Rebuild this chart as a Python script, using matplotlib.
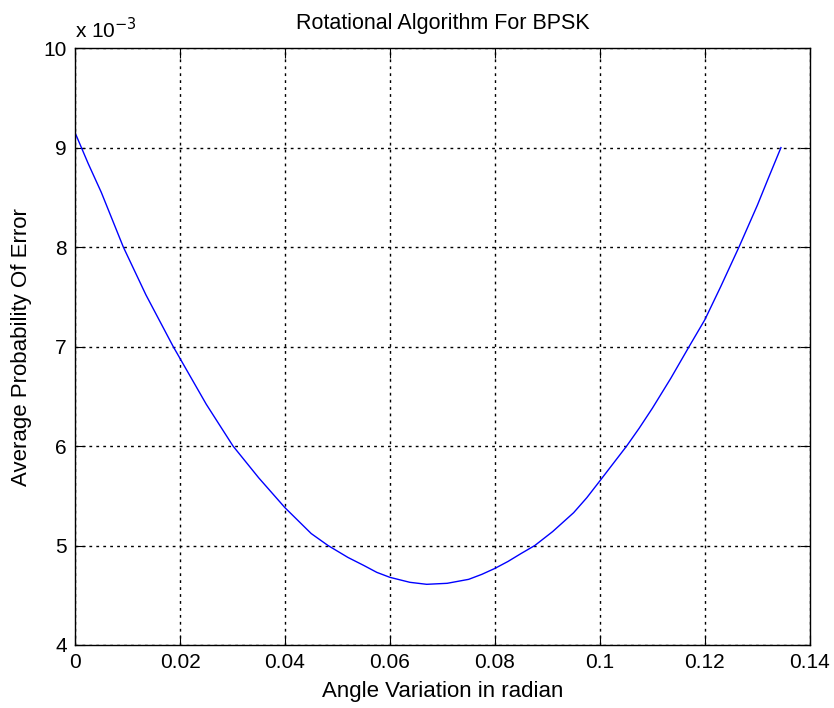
import numpy as np
import matplotlib
matplotlib.use('Agg')
import matplotlib.pyplot as plt

plt.rcParams['font.family'] = ['Liberation Sans', 'DejaVu Sans']

# values (y in units of 1e-3)
angle = [0, 0.0025, 0.005, 0.0092, 0.0135, 0.0187, 0.025, 0.0301, 0.035, 0.04,
         0.045, 0.0482, 0.052, 0.055, 0.0575, 0.06, 0.0638, 0.067, 0.0709, 0.075,
         0.0775, 0.08, 0.0825, 0.085, 0.0876, 0.091, 0.095, 0.0975, 0.1, 0.1051,
         0.1075, 0.11, 0.1135, 0.117, 0.12, 0.123, 0.1265, 0.13, 0.132, 0.1345]
pe = [9.15, 8.84, 8.55, 8.0, 7.52, 7.0, 6.42, 6.0, 5.68, 5.38,
      5.12, 5.0, 4.88, 4.8, 4.73, 4.68, 4.63, 4.61, 4.62, 4.66,
      4.71, 4.77, 4.84, 4.92, 5.0, 5.14, 5.33, 5.48, 5.65, 6.0,
      6.18, 6.38, 6.68, 7.0, 7.27, 7.6, 8.0, 8.42, 8.68, 9.0]

xticks = [0, 0.02, 0.04, 0.06, 0.08, 0.1, 0.12, 0.14]
xtick_labels = ['0', '0.02', '0.04', '0.06', '0.08', '0.1', '0.12', '0.14']
yticks = [4, 5, 6, 7, 8, 9, 10]

fig = plt.figure(figsize=(8.34, 7.08), dpi=100)
ax = fig.add_axes([0.090, 0.089, 0.881, 0.843])

ax.plot(angle, pe, color='#0000ff', lw=1.0)

ax.set_xlim(0, 0.14)
ax.set_ylim(4, 10)
ax.set_xticks(xticks)
ax.set_xticklabels(xtick_labels)
ax.set_yticks(yticks)
ax.grid(True, color='black', linestyle=(0, (2, 3)), linewidth=1.0)
ax.tick_params(direction='in', top=True, right=True, length=7, labelsize=15, pad=6)
for s in ax.spines.values():
    s.set_linewidth(1.0)

ax.text(0, 1.01, r'x 10$^{-3}$', transform=ax.transAxes, fontsize=15,
        ha='left', va='bottom')

ax.set_title('Rotational Algorithm For BPSK', fontsize=15.5, pad=14)
ax.set_xlabel('Angle Variation in radian', fontsize=16, labelpad=6)
ax.set_ylabel('Average Probability Of Error', fontsize=16, labelpad=8)

fig.savefig('out.png', dpi=100)
